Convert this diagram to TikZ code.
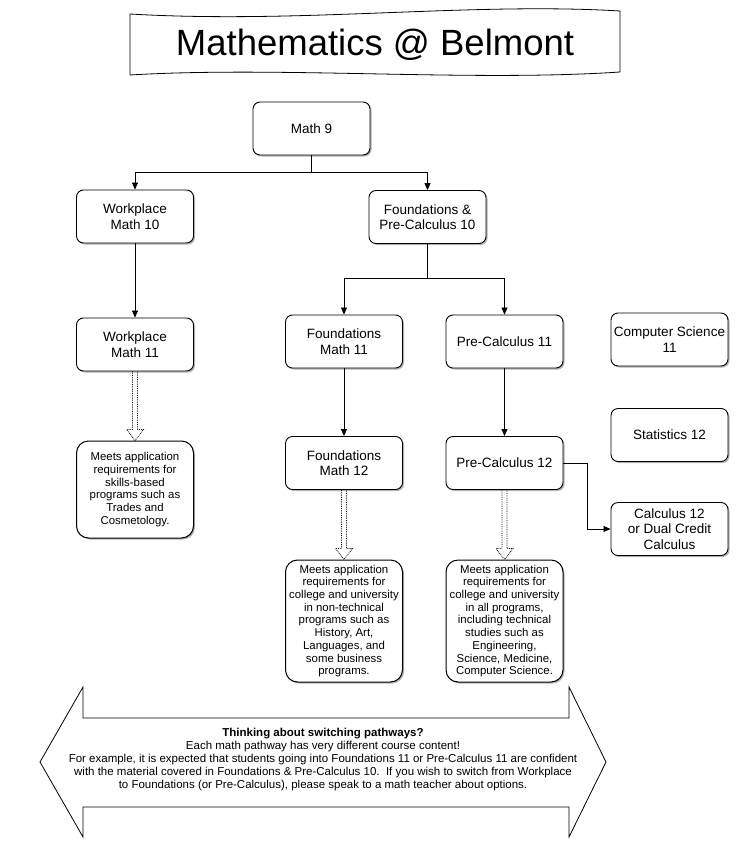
\documentclass[tikz,border=0pt]{standalone}
\usepackage{fontspec}
\setmainfont{Liberation Sans}
\usetikzlibrary{positioning, calc, shadows, arrows.meta}

\newcommand{\pathway}[2]{%
  \draw[densely dotted, line width=0.8pt]
    ($(#1.south)+(-2.5,0)$) -- ($(#2.north)+(-2.5,-11)$) -- ($(#2.north)+(-8.5,-11)$)
    -- (#2.north) -- ($(#2.north)+(8.5,-11)$) -- ($(#2.north)+(2.5,-11)$)
    -- ($(#1.south)+(2.5,0)$);}

\begin{document}
\begin{tikzpicture}[x=1pt, y=-1pt,
    box/.style={draw, rectangle, rounded corners=7pt, fill=white, line width=0.9pt,
      minimum width=117pt, minimum height=53pt, inner sep=1pt, align=center,
      font=\fontsize{13.5}{15.5}\selectfont,
      drop shadow={shadow xshift=1.5pt, shadow yshift=-1.5pt, fill=black, opacity=0.3}},
    note/.style={box, rounded corners=12pt, line width=1pt, font=\fontsize{11.4}{12.7}\selectfont},
    link/.style={->, >={Triangle[length=7pt, width=6pt]}, line width=0.8pt}]
    \useasboundingbox (0,0) rectangle (741,843);

    % title banner
    \draw[line width=0.8pt, fill=white] (130,14) .. controls (300,24) and (470,2) .. (620,11)
      -- (620,72) .. controls (470,82) and (280,66) .. (130,75) -- cycle;
    \node (title) at (375,45) {\fontsize{36.5}{40}\selectfont Mathematics @ Belmont};

    \node [box] (math_9) at (311.5,128.5) {Math 9};
    \node [box] (work_10) at (135,216.5) {Workplace\\Math 10};
    \node [box] (found_pc_10) at (427.5,217) {Foundations \&\\Pre-Calculus 10};
    \node [box] (work_11) at (135,344.5) {Workplace\\Math 11};
    \node [box] (found_11) at (344,341.5) {Foundations\\Math 11};
    \node [box] (pc_11) at (504.5,341.5) {Pre-Calculus 11};
    \node [box] (cs_11) at (669.5,339.5) {Computer Science\\11};
    \node [box] (stats_12) at (669.5,435) {Statistics 12};
    \node [box] (found_12) at (344,463) {Foundations\\Math 12};
    \node [box] (pc_12) at (504.5,463) {Pre-Calculus 12};
    \node [box] (calc_12) at (669.5,529) {Calculus 12\\or Dual Credit\\Calculus};

    \node [note, minimum height=97pt] (meets_work) at (135,489.5)
      {Meets application\\requirements for\\skills-based\\programs such as\\Trades and\\Cosmetology.};
    \node [note, minimum height=122pt] (meets_found) at (344,621)
      {Meets application\\requirements for\\college and university\\in non-technical\\programs such as\\History, Art,\\Languages, and\\some business\\programs.};
    \node [note, minimum height=122pt] (meets_pc) at (504.5,621)
      {Meets application\\requirements for\\college and university\\in all programs,\\including technical\\studies such as\\Engineering,\\Science, Medicine,\\Computer Science.};

    \coordinate (split_9) at (311.5,172);
    \coordinate (split_10) at (427.5,278);

    \draw[link] (math_9) -- (split_9) -| (work_10);
    \draw[link] (split_9) -| (found_pc_10);
    \draw[link] (work_10) -- (work_11);
    \draw[line width=0.8pt] (found_pc_10) -- (split_10);
    \draw[link] (split_10) -| (found_11);
    \draw[link] (split_10) -| (pc_11);
    \draw[link] (found_11) -- (found_12);
    \draw[link] (pc_11) -- (pc_12);
    \draw[link] (pc_12.east) -- ++(24,0) |- (calc_12);

    \pathway{work_11}{meets_work}
    \pathway{found_12}{meets_found}
    \pathway{pc_12}{meets_pc}

    % switching arrow
    \draw[line width=0.8pt] (40,762) -- (83,687) -- (83,718) -- (569,718) -- (569,687)
      -- (606,762) -- (569,837) -- (569,807) -- (83,807) -- (83,837) -- cycle;
    \node [align=center, font=\fontsize{11.5}{13}\selectfont] (switch) at (323,760)
      {\textbf{Thinking about switching pathways?}\\
       Each math pathway has very different course content!\\
       For example, it is expected that students going into Foundations 11 or Pre-Calculus 11 are confident\\
       with the material covered in Foundations \& Pre-Calculus 10.\ \ If you wish to switch from Workplace\\
       to Foundations (or Pre-Calculus), please speak to a math teacher about options.};
\end{tikzpicture}
\end{document}
